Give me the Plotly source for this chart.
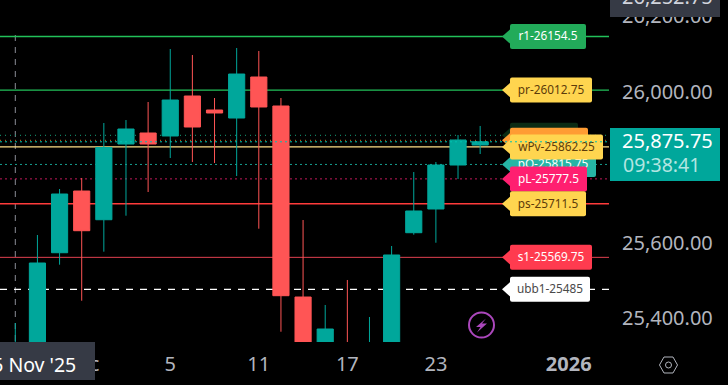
import plotly.graph_objects as go

W, H = 728, 385
PLOT_R, PLOT_B = 609, 342
FONT = "Noto Sans"
UP, DOWN = "#00A79B", "#FF5555"
PANEL = "#363A45"

index = list(range(22))
opens = [25290, 25300, 25582.0, 25745.4, 25669.4, 25869.9, 25899.0, 25891.1, 25997.0, 25959.9, 25938.7,
         26047.3, 25970.5, 25464.7, 25310, 25330, 25310, 25300, 25635.0, 25697.8, 25814.3, 25867.2]
highs = [25395.9, 25628.9, 25750.7, 25779.9, 25925.5, 25933.4, 25981.1, 26121.4, 26105.6, 25991.7, 26124.1,
         26116.2, 25991.7, 25668.6, 25443.6, 25509.8, 25411.8, 25599.8, 25795.7, 25822.2, 25893.7, 25917.6]
lows = [25280, 25280, 25550.3, 25454.9, 25584.7, 25680.0, 25742.8, 25832.8, 25822.2, 25819.6, 25785.1,
        25645.6, 25372.8, 25280, 25290, 25290, 25300, 25290, 25629.7, 25608.5, 25777.2, 25843.4]
closes = [25330, 25554.8, 25737.5, 25640.3, 25860.6, 25909.6, 25869.9, 25986.4, 25914.9, 25952.0, 26055.2,
          25967.9, 25468.2, 25300, 25380.0, 25300, 25335, 25576.0, 25692.5, 25814.3, 25880.5, 25875.75]

x_tick_pos = [3, 7, 11, 15, 19, 25]
x_tick_text = ["Dec", "5", "11", "17", "23", "<b>2026</b>"]
y_ticks = [25400, 25600, 25800, 26000, 26200]
y_tick_text = ["25,400.00", "25,600.00", "", "26,000.00", "26,200.00"]

level_names = ["r1-26154.5", "pr-26012.75", "", "", "pQ-25815.75", "wPv-25862.25", "pL-25777.5", "ps-25711.5",
               "s1-25569.75", "ubb1-25485"]
level_values = [26154.5, 26012.75, 25892.9, 25879.7, 25815.75, 25862.25, 25777.5, 25711.5, 25569.75, 25485]
level_fills = ["#22AB5A", "#FFD54F", "#0B2B14", "#FF9C33", "#26B5A5", "#FFD54F", "#FF1F70", "#FFD54F", "#FF3B4F",
               "#FFFFFF"]
level_text = ["#FFFFFF", "#5D3B0A", "#FFFFFF", "#5D3B0A", "#FFFFFF", "#5D3B0A", "#FFFFFF", "#5D3B0A", "#FFFFFF",
              "#4A4A4A"]
level_lines = ["#22C15A", "#22C15A", "#16A37A", "#C96A1E", "#16A090", "#FFE08A", "#C2185B", "#FF3B3B", "#E04050",
               "#FFFFFF"]
level_widths = [1.3, 1.3, 1, 1, 1, 1.4, 1, 1.4, 1, 1.2]
level_dash = ["solid", "solid", "1px,4px", "1px,4px", "2px,3px", "solid", "2px,3px", "solid", "solid", "7px,7px"]
level_tag_w = [76, 82, 68, 78, 86, 93, 77, 76, 82, 80]

Y_TOP, Y_BOTTOM = 26251.2, 25345.6
X_LEFT, X_RIGHT = -0.691, 26.82


def px(x):
    return x / PLOT_R


def py(y):
    return 1 - y / PLOT_B


fig = go.Figure(go.Candlestick(
    x=index, open=opens, high=highs, low=lows, close=closes, whiskerwidth=0,
    increasing=dict(line=dict(color=UP, width=1), fillcolor=UP),
    decreasing=dict(line=dict(color=DOWN, width=1), fillcolor=DOWN),
    hoverinfo="skip", showlegend=False,
))

shapes = []
annotations = []

shapes.append(dict(type="line", xref="x", yref="paper", x0=0, x1=0, y0=py(35), y1=0, layer="below",
                   line=dict(color="#8A8D96", width=1, dash="6px,6px")))

for v, c, w, d in zip(level_values, level_lines, level_widths, level_dash):
    shapes.append(dict(type="line", xref="paper", yref="y", x0=0, x1=1, y0=v, y1=v, layer="below",
                       line=dict(color=c, width=w, dash=d)))


def rounded(w, h, r=2):
    return (f"M 0 {-h + r} Q 0 {-h} {r} {-h} L {w - r} {-h} Q {w} {-h} {w} {-h + r} "
            f"L {w} {h - r} Q {w} {h} {w - r} {h} L {r} {h} Q 0 {h} 0 {h - r} Z")


for name, v, fill, tc, tw in zip(level_names, level_values, level_fills, level_text, level_tag_w):
    shapes.append(dict(type="path", xref="paper", yref="y", xsizemode="pixel", ysizemode="pixel",
                       xanchor=px(502), yanchor=v, path="M 0 0 L 9 -8 L 9 8 Z",
                       fillcolor=fill, line=dict(width=0), layer="above"))
    shape = dict(type="path", xref="paper", yref="y", xsizemode="pixel", ysizemode="pixel",
                 xanchor=px(510), yanchor=v, path=rounded(tw, 12.5),
                 fillcolor=fill, line=dict(width=0), layer="above")
    if name:
        shape["label"] = dict(text=name, font=dict(family=FONT, size=11.8, color=tc),
                              textposition="middle center")
    shapes.append(shape)

shapes.append(dict(type="line", xref="paper", yref="y", x0=0, x1=1, y0=closes[-1], y1=closes[-1], layer="above",
                   line=dict(color="#00C2B0", width=1, dash="2px,3px")))

shapes.append(dict(type="rect", xref="paper", yref="paper", x0=px(610), x1=px(720), y0=py(-5), y1=py(17),
                   fillcolor=PANEL, line=dict(width=0), layer="above"))
shapes.append(dict(type="rect", xref="paper", yref="paper", x0=px(610), x1=px(720), y0=py(128), y1=py(181),
                   fillcolor=UP, line=dict(width=0), layer="above"))
shapes.append(dict(type="rect", xref="paper", yref="paper", x0=px(-5), x1=px(95), y0=py(342), y1=py(380),
                   fillcolor=PANEL, line=dict(width=0), layer="above"))

shapes.append(dict(type="circle", xref="paper", yref="paper", x0=px(469), x1=px(494), y0=py(312.5), y1=py(337.5),
                   fillcolor="rgba(0,0,0,0)", line=dict(color="#AB47BC", width=2), layer="above"))
bolt = [(486, 318.5), (476, 327), (480.5, 327), (477, 332.5), (487, 323.5), (482, 323.5)]
shapes.append(dict(type="path", xref="paper", yref="paper",
                   path="M " + " L ".join(f"{px(a):.5f} {py(b):.5f}" for a, b in bolt) + " Z",
                   fillcolor="#AB47BC", line=dict(width=0), layer="above"))

hexa = [(659.5, 365), (664, 357), (673, 357), (677.5, 365), (673, 373), (664, 373)]
shapes.append(dict(type="path", xref="paper", yref="paper",
                   path="M " + " L ".join(f"{px(a):.5f} {py(b):.5f}" for a, b in hexa) + " Z",
                   fillcolor="rgba(0,0,0,0)", line=dict(color="#B2B5BE", width=1), layer="above"))
shapes.append(dict(type="circle", xref="paper", yref="paper", x0=px(665.5), x1=px(671.5), y0=py(362), y1=py(368),
                   fillcolor="rgba(0,0,0,0)", line=dict(color="#B2B5BE", width=1), layer="above"))


def note(text, x, y, size, color, anchor="center"):
    annotations.append(dict(text=text, xref="paper", yref="paper", x=px(x), y=py(y), xanchor=anchor,
                            yanchor="middle", showarrow=False, font=dict(family=FONT, size=size, color=color)))


note("26,252.75", 667, -3, 20, "#D1D4DC")
note("25,875.75", 667, 141, 20, "#FFFFFF")
note("09:38:41", 661.5, 164, 19.5, "#B2E5E1")
note("25 Nov '25", 78, 364, 19.5, "#FFFFFF", "right")

fig.update_layout(
    width=W, height=H, autosize=False,
    margin=dict(l=0, r=W - PLOT_R, t=0, b=H - PLOT_B, pad=0),
    paper_bgcolor="#000000", plot_bgcolor="#000000",
    showlegend=False, boxgap=0.27, boxgroupgap=0,
    shapes=shapes, annotations=annotations,
    xaxis=dict(range=[X_LEFT, X_RIGHT], tickmode="array", tickvals=x_tick_pos, ticktext=x_tick_text,
               showgrid=False, zeroline=False, showline=False, ticks="", rangeslider=dict(visible=False),
               tickfont=dict(family=FONT, size=20, color="#B2B5BE"), ticklabelstandoff=8),
    yaxis=dict(range=[Y_BOTTOM, Y_TOP], side="right", tickmode="array", tickvals=y_ticks, ticktext=y_tick_text,
               showgrid=False, zeroline=False, showline=False, ticks="",
               tickfont=dict(family=FONT, size=20, color="#B2B5BE"), ticklabelstandoff=12, ticklabelshift=-3),
)

fig.write_html("out.html", config=dict(displayModeBar=False),
               post_script="document.body.style.margin='0';document.documentElement.style.background='#000';")
